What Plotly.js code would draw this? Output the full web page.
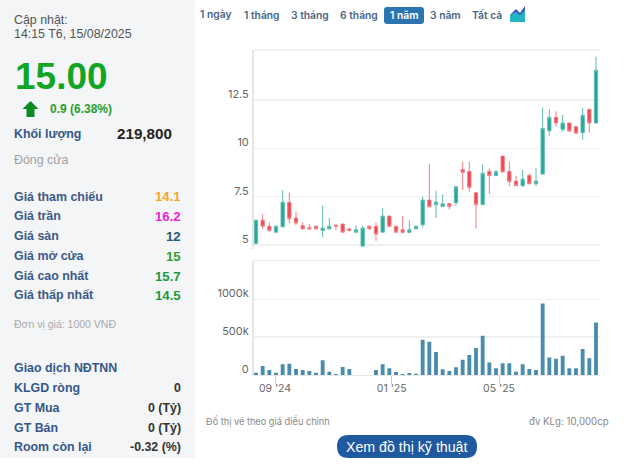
<!DOCTYPE html>
<html><head><meta charset="utf-8">
<script src="https://cdn.plot.ly/plotly-3.0.1.min.js"></script>
<style>html,body{margin:0;padding:0;background:#fff;overflow:hidden}#g{width:624px;height:465px}</style>
</head><body><div id="g"></div>
<script>
const candleOpen=[5.09,6.29,5.98,5.67,5.95,7.21,6.40,6.00,5.90,5.98,5.76,5.84,6.03,6.09,5.83,5.67,4.95,5.98,5.98,5.67,6.50,5.98,5.79,5.66,5.84,6.05,7.33,7.09,7.00,7.14,7.19,8.91,8.81,7.71,7.09,8.81,8.59,9.60,8.81,8.31,8.07,8.60,8.17,8.67,10.91,11.60,10.98,11.31,11.12,10.81,12.02,11.31];
const candleHigh=[6.29,6.60,6.16,5.98,7.84,7.72,6.71,6.17,6.09,5.98,7.03,6.40,6.09,6.09,5.90,6.02,6.02,6.02,6.16,6.91,6.50,5.98,6.50,6.29,5.98,7.53,9.19,7.81,7.62,7.19,8.02,9.31,9.31,7.71,9.19,8.97,8.88,9.60,9.31,8.59,8.88,8.71,8.97,12.12,12.02,11.91,11.72,11.31,11.12,12.10,12.02,14.74];
const candleLow=[5.05,5.81,5.69,5.67,5.91,6.12,6.02,5.81,5.81,5.81,5.40,5.81,5.78,5.66,5.69,5.66,4.95,5.81,5.22,5.66,5.91,5.66,5.62,5.62,5.81,5.91,6.98,6.40,6.98,6.84,7.02,7.84,7.76,5.86,7.07,7.64,8.57,8.78,8.05,8.05,8.00,8.14,8.05,8.66,10.66,11.12,10.86,10.86,10.74,10.43,10.81,11.29];
const candleClose=[6.29,5.98,5.76,5.98,7.22,6.36,6.14,5.84,5.84,5.84,5.88,5.98,5.98,5.67,5.76,5.79,5.88,5.84,5.57,6.50,5.97,5.67,5.66,5.79,5.98,7.33,6.98,7.22,7.14,7.00,8.02,8.76,7.98,7.09,8.71,8.59,8.79,8.78,8.28,8.07,8.41,8.17,8.31,11.03,11.60,11.31,11.31,10.90,10.79,11.71,11.31,14.03];
const volumeK=[31,119,66,31,141,150,79,66,53,31,194,44,13,106,79,0,0,0,66,141,88,40,13,26,18,467,441,304,75,53,101,203,264,357,520,167,88,154,154,44,141,79,66,947,233,216,256,88,88,344,220,696];
const monthLabels=["09 '24","01 '25","05 '25"];
const monthWeekIndex=[2.85,20.35,36.45];
const priceTicks=[5,7.5,10,12.5];
const priceTickLabels=["5","7.5","10","12.5"];
const volumeTicks=[0,500,1000];
const volumeTickLabels=["0","500k","1000k"];
const rangeTabs=["1 ngày","1 tháng","3 tháng","6 tháng","1 năm","3 năm","Tất cả"];
const priceRows=["Giá tham chiếu","Giá trần","Giá sàn","Giá mở cửa","Giá cao nhất","Giá thấp nhất"];
const priceRowValues=["14.1","16.2","12","15","15.7","14.5"];
const foreignRows=["KLGD ròng","GT Mua","GT Bán","Room còn lại"];
const foreignRowValues=["0","0 (Tỷ)","0 (Tỷ)","-0.32 (%)"];

const W=624,H=465,SANS='"Liberation Sans",Arial,sans-serif',INTER='Inter,sans-serif';
const weekIndex=candleOpen.map((_,i)=>i);
const px=x=>x/W, py=y=>1-y/H;
const ann=[];
function T(text,x,y,size,color,anchor,weight,family){
  ann.push({text,x:px(x),y:py(y),xref:'paper',yref:'paper',xanchor:anchor||'left',yanchor:'middle',showarrow:false,borderpad:0,borderwidth:0,
    font:{size,color,weight:weight||400,family:family||SANS}});
}
function poly(pts,fill){return {type:'path',xref:'paper',yref:'paper',line:{width:0},fillcolor:fill,layer:'below',
  path:pts.map((p,i)=>(i?'L':'M')+px(p[0])+','+py(p[1])).join(' ')+' Z'};}
function rr(x0,y0,x1,y1,r,fill){const P=(x,y)=>px(x)+','+py(y);return {type:'path',xref:'paper',yref:'paper',line:{width:0},fillcolor:fill,layer:'below',
  path:`M${P(x0+r,y0)} L${P(x1-r,y0)} Q${P(x1,y0)} ${P(x1,y0+r)} L${P(x1,y1-r)} Q${P(x1,y1)} ${P(x1-r,y1)} L${P(x0+r,y1)} Q${P(x0,y1)} ${P(x0,y1-r)} L${P(x0,y0+r)} Q${P(x0,y0)} ${P(x0+r,y0)} Z`};}
function hline(x0,x1,y,c){return {type:'line',xref:'paper',yref:'paper',x0:px(x0),x1:px(x1),y0:py(y),y1:py(y),line:{color:c,width:1.5},layer:'below'};}

const shapes=[
  {type:'rect',xref:'paper',yref:'paper',x0:0,x1:px(195),y0:py(458),y1:1,fillcolor:'#f4f5f7',line:{width:0},layer:'below'},
  hline(253.5,600,50,'#eeeeee'),hline(253.5,600,260.5,'#eeeeee'),
  poly([[30.5,101],[38.5,109],[34.5,109],[34.5,117],[26.5,117],[26.5,109],[22.5,109]],'#0b8a22'),
  rr(384,7,424,24,3,'#2b74b0'),
  poly([[510,15],[516,9],[520,13],[525,6],[525,16],[510,18]],'#3b50b4'),
  poly([[510,15],[516,12],[520,15],[525,10],[525,22],[510,22]],'#25b4c4'),
  rr(337,435,477,458,11.5,'#1f5aa0')
];

T('Cập nhật:',14,20,12.4,'#555555');
T('14:15 T6, 15/08/2025',14,34,12.4,'#555555');
T('15.00',15,77,37,'#12a524','left',700);
T('0.9 (6.38%)',50,109,12,'#27a12f','left',700);
T('Khối lượng',14,134,12.4,'#34588a','left',700);
T('219,800',172,134,15.2,'#222222','right',700);
T('Đóng cửa',14,160,12.4,'#a0a0a0');
const rowColors=['#f5a623','#f01fd0','#2a5a78','#2ca02c','#1a9a3a','#1a9a3a'];
priceRows.forEach((r,i)=>{const y=[197,216,236,256,276,295][i];
  T(r,14,y,12.4,'#3a5a88','left',700);T(priceRowValues[i],181,y,13.2,rowColors[i],'right',700);});
T('Đơn vị giá: 1000 VNĐ',14,324,10.5,'#aaaaaa');
T('Giao dịch NĐTNN',14,368,12.4,'#34588a','left',700);
foreignRows.forEach((r,i)=>{const y=[388,408,428,447][i];
  T(r,14,y,12.4,'#34588a','left',700);T(foreignRowValues[i],181,y,12.4,'#333333','right',700);});
const tabX=[215.5,261.5,310,359,404,445.5,487];
rangeTabs.forEach((t,i)=>T(t,tabX[i],15,10.3,i===4?'#ffffff':'#4a6585','center',600,INTER));
T('Đồ thị vẽ theo giá điều chỉnh',206,421,9.2,'#888888','left',400,INTER);
T('đv KLg: 10,000cp',609,421,9.7,'#888888','right',400,INTER);
T('Xem đồ thị kỹ thuật',407,447,14.2,'#ffffff','center',400,SANS);

const xrange=[-0.375,51.6];
const grid='#f0f0f0',tick='#666666';
Plotly.newPlot('g',[
 {type:'candlestick',x:weekIndex,open:candleOpen,high:candleHigh,low:candleLow,close:candleClose,xaxis:'x',yaxis:'y',whiskerwidth:0,
  increasing:{line:{color:'#5fbcb2',width:1},fillcolor:'#26a69a'},decreasing:{line:{color:'#f27e85',width:1},fillcolor:'#ef4550'},hoverinfo:'skip'},
 {type:'bar',x:weekIndex,y:volumeK,xaxis:'x2',yaxis:'y2',width:0.58,marker:{color:'#4a8cab',line:{width:0}},hoverinfo:'skip'}
],{
 width:W,height:H,margin:{l:0,r:0,t:0,b:0},paper_bgcolor:'#ffffff',plot_bgcolor:'rgba(0,0,0,0)',showlegend:false,boxgap:0.3,
 xaxis:{domain:[px(253.5),px(600)],range:xrange,anchor:'y',showticklabels:false,ticks:'',showgrid:false,zeroline:false,rangeslider:{visible:false}},
 xaxis2:{domain:[px(253.5),px(600)],range:xrange,anchor:'y2',tickmode:'array',tickvals:monthWeekIndex,ticktext:monthLabels,ticks:'outside',ticklen:8,tickwidth:1,tickcolor:'#cccccc',
   showgrid:false,zeroline:false,showline:true,linecolor:'#e6e6e6',linewidth:1,ticklabelstandoff:-5,tickfont:{family:INTER,size:10.5,color:tick}},
 yaxis:{domain:[py(249),py(50)],range:[4.8,15.08],anchor:'x',tickmode:'array',tickvals:priceTicks,ticktext:priceTickLabels,ticks:'',showgrid:true,gridcolor:grid,gridwidth:1.5,zeroline:false,
   showline:true,linecolor:'#e6e6e6',linewidth:1.5,ticklabelstandoff:1,ticklabelshift:-6,tickfont:{family:INTER,size:11,color:tick}},
 yaxis2:{domain:[py(375),py(260.5)],range:[0,1515],anchor:'x2',tickmode:'array',tickvals:volumeTicks,ticktext:volumeTickLabels,ticks:'',showgrid:true,gridcolor:grid,gridwidth:1.5,zeroline:false,
   showline:true,linecolor:'#e6e6e6',linewidth:1.5,ticklabelstandoff:1,ticklabelshift:-6,tickfont:{family:INTER,size:11,color:tick}},
 shapes,annotations:ann
},{displayModeBar:false,staticPlot:true});
</script></body></html>
